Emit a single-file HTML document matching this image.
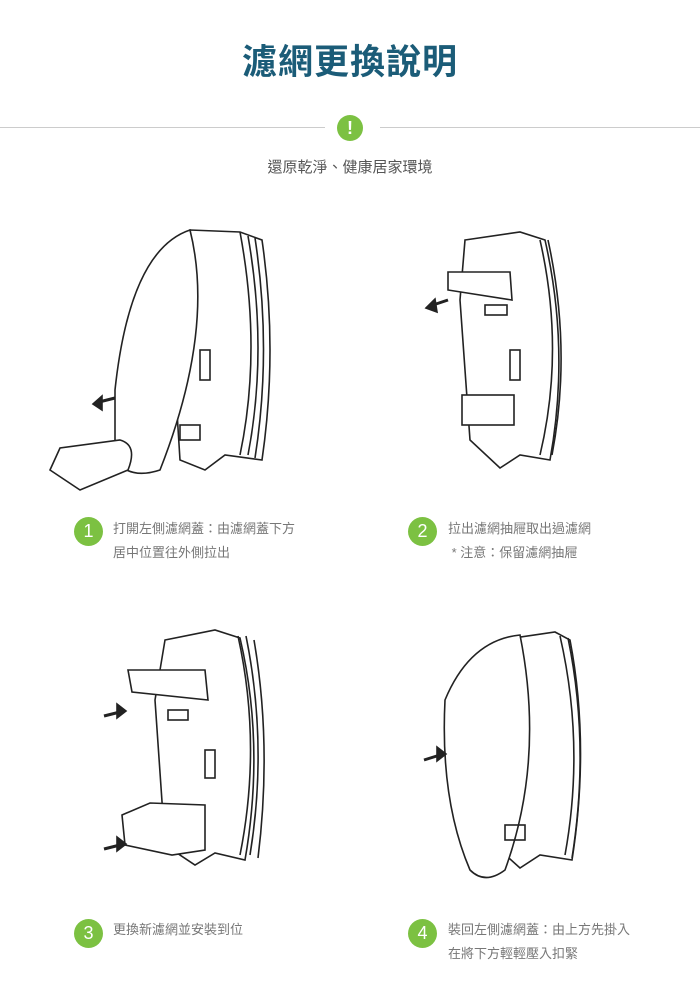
<!DOCTYPE html>
<html><head><meta charset="utf-8"><style>
body{margin:0;width:700px;height:983px;background:#fff;position:relative;overflow:hidden;font-family:"Liberation Sans","Noto Sans CJK TC",sans-serif}
.t{position:absolute;left:0;width:700px;text-align:center;top:34px;font-size:35px;font-weight:bold;color:#1b5c78;letter-spacing:1px}
.line{position:absolute;top:127px;height:1px;background:#ccc}
.sub{position:absolute;top:156px;width:700px;text-align:center;font-size:15px;color:#555}
.num{position:absolute;width:29px;height:29px;border-radius:50%;background:#7cc142;color:#fff;font-size:18px;text-align:center;line-height:29px}
.tx{position:absolute;font-size:13px;color:#777;line-height:24px}
svg{position:absolute;left:0;top:0}
</style></head><body>
<div class="t">濾網更換說明</div>
<div class="line" style="left:0;width:325px"></div>
<div class="line" style="left:380px;width:320px"></div>
<div class="num" style="left:337px;top:115px;width:26px;height:26px;line-height:26px;font-weight:bold">!</div>
<div class="sub">還原乾淨、健康居家環境</div>
<svg width="700" height="983" fill="none" stroke="#222" stroke-width="1.6">
<!-- fig1 -->
<path d="M190 230 L240 232 L262 240 Q278 350 262 460 L225 455 L205 470 L180 460 L170 300 Z" fill="#fff"/>
<path d="M240 232 Q262 350 240 455 M248 236 Q268 350 248 455 M255 238 Q272 350 255 458"/>
<path d="M115 390 Q130 250 190 230 Q215 330 160 470 Q130 480 115 460 Z" fill="#fff"/>
<path d="M50 470 L60 448 L120 440 Q138 445 128 470 L80 490 Z" fill="#fff"/>
<rect x="200" y="350" width="10" height="30"/><rect x="180" y="425" width="20" height="15"/>
<path d="M95 403 L115 398" stroke-width="3"/><path d="M93 404 L102 396 L102 410 Z" fill="#222"/>
<!-- fig2 -->
<path d="M465 240 L520 232 L545 240 Q570 350 550 460 L520 455 L500 468 L470 440 L460 300 Z" fill="#fff"/>
<path d="M540 240 Q565 350 540 455 M548 240 Q572 350 552 455"/>
<path d="M448 272 L510 272 L512 300 L448 290 Z" fill="#fff"/>
<rect x="462" y="395" width="52" height="30" fill="#fff"/>
<rect x="510" y="350" width="10" height="30"/><rect x="485" y="305" width="22" height="10"/>
<path d="M430 306 L448 300" stroke-width="3"/><path d="M426 308 L435 299 L437 312 Z" fill="#222"/>
<!-- fig3 -->
<path d="M165 640 L215 630 L240 638 Q265 745 245 860 L215 853 L195 865 L165 845 L155 700 Z" fill="#fff"/>
<path d="M238 636 Q262 745 240 855 M246 636 Q268 745 250 855 M254 640 Q272 745 258 858"/>
<path d="M128 670 L205 670 L208 700 L132 692 Z" fill="#fff"/>
<path d="M122 815 L150 803 L205 805 L205 850 L172 855 L125 845 Z" fill="#fff"/>
<rect x="205" y="750" width="10" height="28"/><rect x="168" y="710" width="20" height="10"/>
<path d="M104 716 L120 712" stroke-width="3"/><path d="M126 711 L117 704 L117 718 Z" fill="#222"/>
<path d="M104 849 L120 845" stroke-width="3"/><path d="M126 844 L117 837 L117 851 Z" fill="#222"/>
<!-- fig4 -->
<path d="M500 640 L555 632 L570 640 Q590 745 572 860 L540 855 L520 868 L500 850 Z" fill="#fff"/>
<path d="M560 636 Q585 745 565 855 M568 638 Q590 745 572 858"/>
<path d="M445 700 Q470 640 520 635 Q545 760 505 870 Q485 885 470 870 Q440 800 445 700 Z" fill="#fff"/>
<rect x="505" y="825" width="20" height="15"/>
<path d="M424 760 L440 755" stroke-width="3"/><path d="M446 754 L437 747 L437 761 Z" fill="#222"/>
</svg>
<div class="num" style="left:74px;top:517px">1</div>
<div class="tx" style="left:113px;top:517px">打開左側濾網蓋：由濾網蓋下方<br>居中位置往外側拉出</div>
<div class="num" style="left:408px;top:517px">2</div>
<div class="tx" style="left:448px;top:517px">拉出濾網抽屜取出過濾網<br>&nbsp;* 注意：保留濾網抽屜</div>
<div class="num" style="left:74px;top:919px">3</div>
<div class="tx" style="left:113px;top:918px">更換新濾網並安裝到位</div>
<div class="num" style="left:408px;top:919px">4</div>
<div class="tx" style="left:448px;top:918px">裝回左側濾網蓋：由上方先掛入<br>在將下方輕輕壓入扣緊</div>
</body></html>
